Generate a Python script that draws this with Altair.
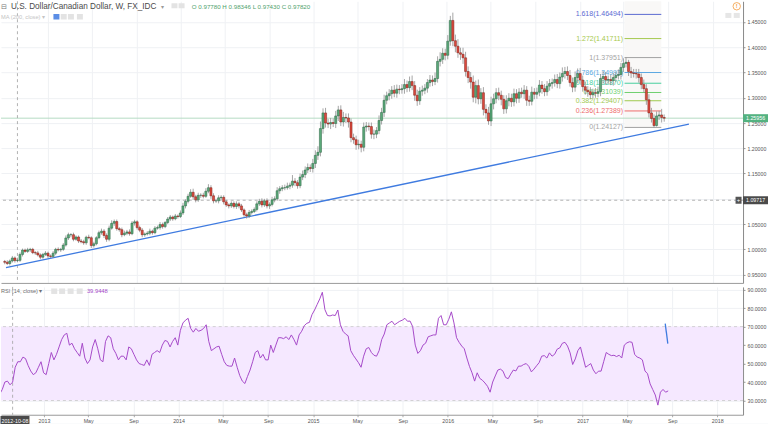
import altair as alt
import pandas as pd

FONT = "Liberation Sans"

# ---------------- data ----------------
first_week = "2012-09-03"
first_open = 0.9760

closes = [
    0.9745, 0.9720, 0.9770, 0.9830, 0.9778, 0.9782, 0.9900, 0.9985, 0.9960, 0.9990,
    1.0000, 0.9935, 0.9930, 0.9890, 0.9845, 0.9900, 0.9925, 0.9870, 0.9860, 0.9925,
    1.0000, 0.9990, 1.0000, 1.0085, 1.0225, 1.0290, 1.0290, 1.0200, 1.0245, 1.0165,
    1.0150, 1.0130, 1.0240, 1.0230, 1.0075, 1.0110, 1.0230, 1.0330, 1.0360, 1.0275,
    1.0200, 1.0420, 1.0515, 1.0550, 1.0410, 1.0390, 1.0290, 1.0320, 1.0345, 1.0310,
    1.0520, 1.0545, 1.0430, 1.0380, 1.0290, 1.0305, 1.0320, 1.0360, 1.0330, 1.0420,
    1.0430, 1.0490, 1.0450, 1.0530, 1.0600, 1.0640, 1.0605, 1.0660, 1.0650, 1.0720,
    1.0860, 1.0950, 1.1050, 1.1130, 1.1040, 1.0980, 1.1070, 1.1070, 1.1050, 1.1150,
    1.1220, 1.1060, 1.0960, 1.0960, 1.1020, 1.1030, 1.0940, 1.0880, 1.0860, 1.0910,
    1.0850, 1.0900, 1.0860, 1.0780, 1.0685, 1.0660, 1.0730, 1.0750, 1.0790, 1.0900,
    1.0950, 1.0880, 1.0960, 1.0860, 1.0890, 1.0980, 1.1000, 1.1160, 1.1200, 1.1220,
    1.1220, 1.1250, 1.1270, 1.1350, 1.1320, 1.1260, 1.1430, 1.1480, 1.1570, 1.1620,
    1.1600, 1.1700, 1.1860, 1.1920, 1.2390, 1.2700, 1.2500, 1.2480, 1.2510, 1.2490,
    1.2640, 1.2760, 1.2520, 1.2610, 1.2600, 1.2520, 1.2210, 1.2170, 1.2070, 1.2080,
    1.2020, 1.2420, 1.2440, 1.2430, 1.2280, 1.2280, 1.2350, 1.2550, 1.2710, 1.2950,
    1.3040, 1.3080, 1.3150, 1.3090, 1.3170, 1.3160, 1.3180, 1.3260, 1.3200, 1.3320,
    1.3240, 1.3050, 1.2940, 1.3130, 1.3150, 1.3190, 1.3300, 1.3350, 1.3320, 1.3380,
    1.3720, 1.3760, 1.3880, 1.3840, 1.4120, 1.4530, 1.4130, 1.4020, 1.3890, 1.3860,
    1.3790, 1.3520, 1.3400, 1.3310, 1.3010, 1.3240, 1.2980, 1.3100, 1.2770, 1.2700,
    1.2540, 1.2880, 1.2980, 1.3100, 1.3050, 1.2970, 1.2780, 1.2940, 1.2990, 1.2920,
    1.3080, 1.2990, 1.3110, 1.3080, 1.3150, 1.2950, 1.2930, 1.3110, 1.3070, 1.3110,
    1.3250, 1.3180, 1.3120, 1.3230, 1.3280, 1.3300, 1.3360, 1.3280, 1.3410, 1.3480,
    1.3520, 1.3440, 1.3300, 1.3210, 1.3400, 1.3480, 1.3350, 1.3220, 1.3150, 1.3120,
    1.3060, 1.3100, 1.3090, 1.3120, 1.3380, 1.3420, 1.3350, 1.3360, 1.3340, 1.3400,
    1.3440, 1.3460, 1.3600, 1.3680, 1.3700, 1.3520, 1.3490, 1.3480, 1.3470, 1.3400,
    1.3260, 1.3180, 1.2960, 1.2700, 1.2590, 1.2450, 1.2640, 1.2660, 1.2610, 1.2596,
]

# upper / lower wick lengths in thousandths
wick_up = [
    3, 4, 3, 4, 3, 5.3, 4, 3, 3, 4, 3, 3, 3, 4, 3, 3, 4, 3, 3, 4,
    3, 4, 3, 4, 5, 4, 3, 4, 3, 3, 4, 4, 3, 5, 3, 4, 3, 4, 5, 4,
    4, 5, 6, 4, 4, 3, 4, 5, 4, 5, 4, 4, 3, 4, 4, 3, 4, 5, 3, 4,
    4, 5, 4, 3, 4, 4, 3, 4, 3, 5, 6, 4, 5, 6, 7, 4, 5, 4, 5, 6,
    7, 5, 5, 4, 5, 4, 4, 4, 3, 4, 4, 5, 4, 4, 3, 4, 5, 4, 4, 5,
    5, 6, 4, 5, 4, 6, 5, 7, 5, 5, 6, 7, 5, 12, 6, 5, 7, 8, 7, 8,
    6, 9, 10, 12, 14, 9, 10, 8, 9, 8, 10, 8, 9, 11, 8, 9, 7, 8, 8, 9,
    7, 9, 8, 7, 8, 9, 7, 10, 9, 11, 8, 9, 8, 10, 9, 8, 9, 11, 8, 10,
    12, 9, 11, 8, 9, 8, 7, 10, 9, 12, 10, 14, 10, 9, 12, 9, 15.5, 12, 14, 10,
    13, 12, 10, 11, 13, 10, 12, 9, 11, 10, 12, 14, 10, 9, 10, 9, 8, 11, 10, 9,
    10, 9, 8, 9, 10, 8, 9, 11, 8, 9, 10, 8, 9, 10, 9, 8, 10, 11, 9, 12,
    9, 10, 11, 10, 12, 10, 11, 9, 10, 8, 9, 8, 9, 10, 9, 11, 9, 8, 10, 9,
    8, 10, 9, 10, 9.5, 5, 9, 8, 9, 10, 8, 10, 9, 11, 10, 8, 9, 8, 12, 6,
]
wick_dn = [
    4, 3, 4, 3, 4, 3.5, 3, 4, 3, 3, 4, 3, 4, 3, 4, 3, 3, 4, 3, 3,
    4, 3, 4, 3, 3, 4, 5, 4, 3, 4, 3, 4, 4, 3, 5, 4, 3, 3, 4, 5,
    5, 4, 3, 5, 4, 4, 5, 3, 4, 4, 3, 5, 4, 4, 5, 4, 3, 4, 4, 3,
    3, 4, 4, 3, 3, 4, 4, 3, 4, 3, 4, 5, 4, 3, 6, 5, 4, 5, 4, 3,
    4, 6, 5, 4, 5, 4, 5, 4, 5, 4, 4, 5, 5, 4, 4, 5, 4, 4, 3, 4,
    4, 5, 4, 5, 6, 4, 5, 4, 6, 5, 5, 4, 6, 5, 7, 6, 5, 6, 7, 6,
    7, 8, 9, 9, 8, 10, 9, 8, 10, 7, 9, 10, 8, 9, 10, 11, 9, 8, 10, 9,
    10, 8, 9, 8, 9, 10, 8, 7, 8, 9, 8, 9, 10, 8, 9, 9, 8, 10, 9, 8,
    9, 11, 10, 8, 9, 8, 9, 8, 9, 7, 8, 10, 9, 10, 8, 9, 11, 12, 10, 11,
    12, 10, 11, 13, 10, 12, 11, 10, 12, 11, 7.5, 10, 11, 9, 10, 12, 10, 9, 11, 10,
    9, 10, 9, 8, 10, 11, 9, 8, 10, 9, 8, 10, 9, 8, 9, 10, 8, 9, 10, 9,
    10, 9, 8, 10, 9, 11, 8, 10, 9, 10, 9, 8, 9, 8, 9, 10, 9, 8, 9, 10,
    9, 8, 10, 9, 8, 9, 10, 8, 9, 10, 9, 8, 10, 9, 8, 3.7, 2, 8, 10, 7,
]

rsi_values = [
    33.5, 36, 40, 40.5, 38.5, 39.94, 48, 51, 51, 53.5,
    52.7, 49, 46, 44, 45, 48, 51, 45, 44, 50,
    56, 52, 55, 59, 63, 65.5, 66.4, 60, 61, 58,
    56, 54, 61, 53, 50, 52, 59, 63, 58, 52,
    51, 62, 65, 64, 58, 55.5, 52, 54, 54, 52,
    59, 58, 55, 52, 50, 49.5, 49, 52, 49, 55,
    56, 57, 56, 60, 62.5, 62, 59, 62, 64, 60,
    68, 72, 73.5, 74.5, 69, 67, 69, 67.5, 68, 69,
    71, 62, 57, 58, 59, 59.4, 55, 51, 49, 48.6,
    48.6, 53, 48, 43.5, 40.5, 39.2, 43, 46.5, 51, 56,
    57, 53, 55, 52, 52, 60, 56, 60, 64, 64,
    63.5, 64.5, 63, 65.5, 63, 60, 65.5, 67.5, 70.5, 71.8,
    72.3, 76.5, 79, 82, 85, 88.6, 79.2, 76, 75.8, 76.3,
    76, 79, 71, 67.5, 66, 65, 57, 54.5, 52.5, 50.5,
    48, 54, 58, 58.7, 56, 54.5, 54, 57, 63, 66,
    71, 72, 72.9, 71, 72, 72.9, 73.5, 74.5, 72.9, 73,
    70, 60, 55.5, 57, 60, 61, 64.5, 65, 65.5, 65.5,
    74.5, 76, 71, 71, 74, 78, 72, 64, 61.5, 59.5,
    58, 53, 48.5, 45, 40.5, 45, 42, 41, 39.5, 37.7,
    34.5, 40, 43.3, 46.5, 47, 45.9, 42.5, 41.8, 44.3, 46.5,
    46, 48.6, 48.6, 49.5, 50, 48.5, 45.5, 47, 48.8, 50.5,
    54, 54.3, 53, 55.8, 54, 55, 57.8, 58.5, 61, 61.5,
    59.5, 55.8, 49.5, 52.5, 57, 59, 53.5, 48, 49, 50,
    46.5, 44.5, 45.9, 45.9, 51, 56, 55, 54.3, 54.5, 53.8,
    54.5, 53, 60, 61.2, 61.8, 61.5, 55, 53.5, 53, 52,
    46, 44.5, 39, 36, 33, 27.5, 34.5, 36, 34.5, 35.2,
]

fib_ratio = ["1.618", "1.272", "1", "0.786", "0.618", "0.5", "0.382", "0.236", "0"]
fib_price = [1.46494, 1.41711, 1.37951, 1.34993, 1.32870, 1.31039, 1.29407, 1.27389, 1.24127]
fib_colors = ["#5b6ad2", "#a6c94e", "#a3a3a3", "#5aa8e2", "#47cf9f", "#6fd06f", "#a0c94f", "#ee6b6b", "#a3a3a3"]
fib_start = "2017-05-04"
fib_end = "2017-08-13"

trend_dates = ["2012-09-06T12:00:00", "2017-10-28T00:00:00"]
trend_prices = [0.9638, 1.2478]
rsi_line_dates = ["2017-08-13T00:00:00", "2017-08-20T00:00:00"]
rsi_line_values = [71.6, 60.8]

last_price = 1.25956
cross_price = 1.09717
cross_date = "2012-10-08"

price_ticks = [0.95, 1.00, 1.05, 1.10, 1.15, 1.20, 1.25, 1.30, 1.35, 1.40, 1.45]
rsi_ticks = [30, 40, 50, 60, 70, 80, 90]
tick_years = [2013, 2014, 2015, 2016, 2017]
tick_months = [1, 5, 9]

# ---------------- tables ----------------
dates = pd.date_range(first_week, periods=len(closes), freq="7D")
opens = [first_open] + closes[:-1]
highs = [max(o, c) + u / 1000 for o, c, u in zip(opens, closes, wick_up)]
lows = [min(o, c) - d / 1000 for o, c, d in zip(opens, closes, wick_dn)]
candles = pd.DataFrame({
    "date": dates, "open": opens, "close": closes, "high": highs, "low": lows,
    "dir": ["up" if c >= o else "down" for o, c in zip(opens, closes)],
})
rsi_df = pd.DataFrame({"date": dates, "rsi": rsi_values})
fib_df = pd.DataFrame({
    "start": pd.to_datetime([fib_start] * len(fib_price)),
    "end": pd.to_datetime([fib_end] * len(fib_price)),
    "price": fib_price,
    "ratio": fib_ratio,
    "label": [f"{r}({p:.5f})" for r, p in zip(fib_ratio, fib_price)],
})
fib_zone = pd.DataFrame({"start": pd.to_datetime([fib_start]), "end": pd.to_datetime([fib_end]),
                         "low": [min(fib_price)]})
trend_df = pd.DataFrame({"date": pd.to_datetime(trend_dates), "price": trend_prices})
rsi_line_df = pd.DataFrame({"date": pd.to_datetime(rsi_line_dates), "rsi": rsi_line_values})
one = pd.DataFrame({"k": [0]})

cd = pd.Timestamp(cross_date)
cross_dt = alt.DateTime(year=cd.year, month=cd.month, date=cd.day)
tvals = [alt.DateTime(year=y, month=m, date=1) for y in tick_years for m in tick_months] + \
        [alt.DateTime(year=2018, month=1, date=1)]

# ---------------- scales & axes ----------------
xs = alt.Scale(domain=[alt.DateTime(year=2012, month=9, date=6, hours=12),
                       alt.DateTime(year=2018, month=3, date=12)], nice=False)
ys_p = alt.Scale(domain=[0.9336, 1.4909], nice=False, zero=False)
ys_r = alt.Scale(domain=[22.3, 91.5], nice=False, zero=False)

GRID = "#eff1f4"
ax_top_x = alt.Axis(values=tvals, labels=False, ticks=False, domain=True, domainColor="#9a9a9a",
                    grid=True, gridColor=GRID, title=None, minExtent=0, maxExtent=0)
ax_bot_x = alt.Axis(values=tvals,
                    labelExpr="month(datum.value) == 0 ? timeFormat(datum.value, '%Y') : timeFormat(datum.value, '%b')",
                    labelFont=FONT, labelFontSize=5.3, labelColor="#555555", labelPadding=1.5,
                    tickSize=2, tickColor="#aaaaaa", domainColor="#9a9a9a", grid=True, gridColor=GRID,
                    title=None, labelOverlap=False, labelFlush=False)
ax_price = alt.Axis(orient="right", values=price_ticks, format=".5f", labelFont=FONT, labelFontSize=5.2,
                    labelColor="#555555", labelPadding=2, tickSize=2, tickColor="#999999",
                    domainColor="#8a8a8a", grid=True, gridColor=GRID, title=None, labelOverlap=False,
                    labelFlush=False)
ax_rsi = alt.Axis(orient="right", values=rsi_ticks, format=".4f", labelFont=FONT, labelFontSize=5.2,
                  labelColor="#555555", labelPadding=2, tickSize=2, tickColor="#999999",
                  domainColor="#8a8a8a", grid=True, gridColor=GRID, title=None, labelOverlap=False,
                  labelFlush=False)


def XT(field):
    return alt.X(f"{field}:T", scale=xs, axis=ax_top_x)


def XB(field):
    return alt.X(f"{field}:T", scale=xs, axis=ax_bot_x)


def YP(field):
    return alt.Y(f"{field}:Q", scale=ys_p, axis=ax_price)


def YR(field):
    return alt.Y(f"{field}:Q", scale=ys_r, axis=ax_rsi)


def text_at(txt, x, y, size, color, align="left", weight="normal"):
    return alt.Chart(one).mark_text(text=txt, align=align, baseline="middle", fontSize=size,
                                    font=FONT, color=color, fontWeight=weight).encode(
        x=alt.value(x), y=alt.value(y))


def box_at(x, y, w, h, color):
    m = max(w, h)
    a, b = w / m, h / m
    path = f"M {-a} {-b} L {a} {-b} L {a} {b} L {-a} {b} Z"
    return alt.Chart(one).mark_point(shape=path, size=m * m, filled=True, fill=color,
                                     strokeWidth=0, opacity=1).encode(x=alt.value(x), y=y)


UP_FILL, UP_STROKE = "#5aa979", "#2a6443"
DN_FILL, DN_STROKE = "#dd4a3e", "#7a2119"
TREND = "#3f7be0"

# ---------------- price pane ----------------
fib_color = alt.Color("ratio:N", scale=alt.Scale(domain=fib_ratio, range=fib_colors), legend=None)

price_layers = [
    alt.Chart(fib_zone).mark_rect(color="#f9f8f7").encode(x=XT("start"), x2="end:T", y=YP("low"),
                                                         y2=alt.value(0)),
    alt.Chart(one).mark_rule(color="#b5dcc4", strokeWidth=1).encode(
        y=alt.Y(datum=last_price, scale=ys_p, axis=ax_price)),
    alt.Chart(one).mark_rule(color="#a0a0a0", strokeWidth=0.8, strokeDash=[3, 3]).encode(
        y=alt.Y(datum=cross_price, scale=ys_p, axis=ax_price)),
    alt.Chart(one).mark_rule(color="#a0a0a0", strokeWidth=0.8, strokeDash=[3, 3]).encode(
        x=alt.X(datum=cross_dt, scale=xs, axis=ax_top_x)),
    alt.Chart(trend_df).mark_line(color=TREND, strokeWidth=1.3, clip=True).encode(
        x=XT("date"), y=YP("price")),
    alt.Chart(fib_df).mark_rule(strokeWidth=1).encode(x=XT("start"), x2="end:T", y=YP("price"),
                                                      color=fib_color),
    alt.Chart(fib_df).mark_text(align="right", baseline="middle", dx=-1.5, fontSize=7, font=FONT).encode(
        x=XT("start"), y=YP("price"), text="label:N", color=fib_color),
    alt.Chart(candles).mark_rule(color="#8f8f8f", strokeWidth=0.8, clip=True).encode(
        x=XT("date"), y=YP("low"), y2="high:Q"),
    alt.Chart(candles).mark_bar(size=2.1, strokeWidth=0.5, clip=True).encode(
        x=XT("date"), y=YP("open"), y2="close:Q",
        fill=alt.Fill("dir:N", scale=alt.Scale(domain=["up", "down"], range=[UP_FILL, DN_FILL]), legend=None),
        stroke=alt.Stroke("dir:N", scale=alt.Scale(domain=["up", "down"], range=[UP_STROKE, DN_STROKE]),
                          legend=None)),
    # header
    text_at("⊟", 0.5, 5.5, 7.5, "#777777"),
    text_at("U.S. Dollar/Canadian Dollar, W, FX_IDC", 10, 5.5, 8.2, "#4a4a4a"),
    text_at("▾", 160, 5.5, 6, "#999999"),
    box_at(173.7, alt.value(4.5), 6, 5, "#e3e3e3"),
    box_at(180.8, alt.value(4.5), 6, 5, "#e3e3e3"),
    text_at("O 0.97780  H 0.98346  L 0.97430  C 0.97820", 191, 5.5, 6.2, "#4f9f6c"),
    text_at("MA (200, close) ▾", 0, 15.5, 5.7, "#c4c4c4"),
    box_at(55.5, alt.value(15.5), 6, 5.5, "#5b8ee6"),
    box_at(62.8, alt.value(15.5), 6, 5.5, "#e3e3e3"),
    box_at(70.0, alt.value(15.5), 6, 5.5, "#e3e3e3"),
    box_at(79.0, alt.value(15.5), 6, 5.5, "#e3e3e3"),
    # top-right icons
    alt.Chart(one).mark_point(shape="circle", size=55, filled=False, color="#f29b3c", strokeWidth=0.8,
                              opacity=1).encode(x=alt.value(736.7), y=alt.value(5)),
    text_at("!", 736.7, 5.2, 5.5, "#f29b3c", align="center", weight="bold"),
    box_at(728.3, alt.value(14.2), 6, 5, "#e6e6e6"),
    box_at(736.7, alt.value(14.2), 6, 5, "#e6e6e6"),
    # right-axis labels
    box_at(755.5, alt.Y(datum=last_price, scale=ys_p, axis=ax_price), 25, 8, "#53b280"),
    alt.Chart(one).mark_text(text=f"{last_price:.5f}", align="left", baseline="middle", fontSize=5.3,
                             font=FONT, color="white").encode(
        x=alt.value(746), y=alt.Y(datum=last_price, scale=ys_p, axis=ax_price)),
    box_at(738.5, alt.Y(datum=cross_price, scale=ys_p, axis=ax_price), 6, 7, "#555555"),
    alt.Chart(one).mark_text(text="+", align="center", baseline="middle", fontSize=6,
                             font=FONT, color="white").encode(
        x=alt.value(738.5), y=alt.Y(datum=cross_price, scale=ys_p, axis=ax_price)),
    box_at(755.5, alt.Y(datum=cross_price, scale=ys_p, axis=ax_price), 25, 8, "#4a4a4a"),
    alt.Chart(one).mark_text(text=f"{cross_price:.5f}", align="left", baseline="middle", fontSize=5.3,
                             font=FONT, color="white").encode(
        x=alt.value(746), y=alt.Y(datum=cross_price, scale=ys_p, axis=ax_price)),
]
price = alt.layer(*price_layers).properties(width=743, height=282)

# ---------------- RSI pane ----------------
rsi_layers = [
    alt.Chart(one).mark_rect(color="#f5e8ff").encode(
        x=alt.value(0), x2=alt.value(743),
        y=alt.Y(datum=70, scale=ys_r, axis=ax_rsi), y2=alt.Y2(datum=30)),
    alt.Chart(one).mark_rule(color="#c8c8c8", strokeWidth=0.8, strokeDash=[3, 3]).encode(
        y=alt.Y(datum=70, scale=ys_r, axis=ax_rsi)),
    alt.Chart(one).mark_rule(color="#c8c8c8", strokeWidth=0.8, strokeDash=[3, 3]).encode(
        y=alt.Y(datum=30, scale=ys_r, axis=ax_rsi)),
    alt.Chart(one).mark_rule(color="#a0a0a0", strokeWidth=0.8, strokeDash=[3, 3]).encode(
        x=alt.X(datum=cross_dt, scale=xs, axis=ax_bot_x)),
    alt.Chart(rsi_df).mark_line(color="#a64ac9", strokeWidth=1, clip=True).encode(
        x=XB("date"), y=YR("rsi")),
    alt.Chart(rsi_line_df).mark_line(color=TREND, strokeWidth=1.3).encode(x=XB("date"), y=YR("rsi")),
    text_at("RSI (14, close) ▾", 0, 4.3, 5.6, "#6f6f6f"),
    box_at(53.3, alt.value(4.3), 6, 5.5, "#e3e3e3"),
    box_at(61.2, alt.value(4.3), 6, 5.5, "#e3e3e3"),
    box_at(69.7, alt.value(4.3), 6, 5.5, "#e3e3e3"),
    box_at(78.8, alt.value(4.3), 6, 5.5, "#e3e3e3"),
    text_at("39.9448", 86, 4.3, 5.8, "#a64ac9"),
    alt.Chart(one).mark_rect(color="#eceff3").encode(x=alt.value(0), x2=alt.value(768),
                                                     y=alt.value(137), y2=alt.value(140)),
    box_at(14, alt.value(134), 29, 9.5, "#4a4a4a"),
    text_at(cross_date, 14, 134, 5.3, "white", align="center"),
]
rsi = alt.layer(*rsi_layers).properties(width=743, height=128)

chart = alt.vconcat(price, rsi, spacing=2).properties(padding=0, background="white").configure_view(
    strokeWidth=0)

chart.save("out.html", embed_options={"renderer": "svg", "actions": False})
